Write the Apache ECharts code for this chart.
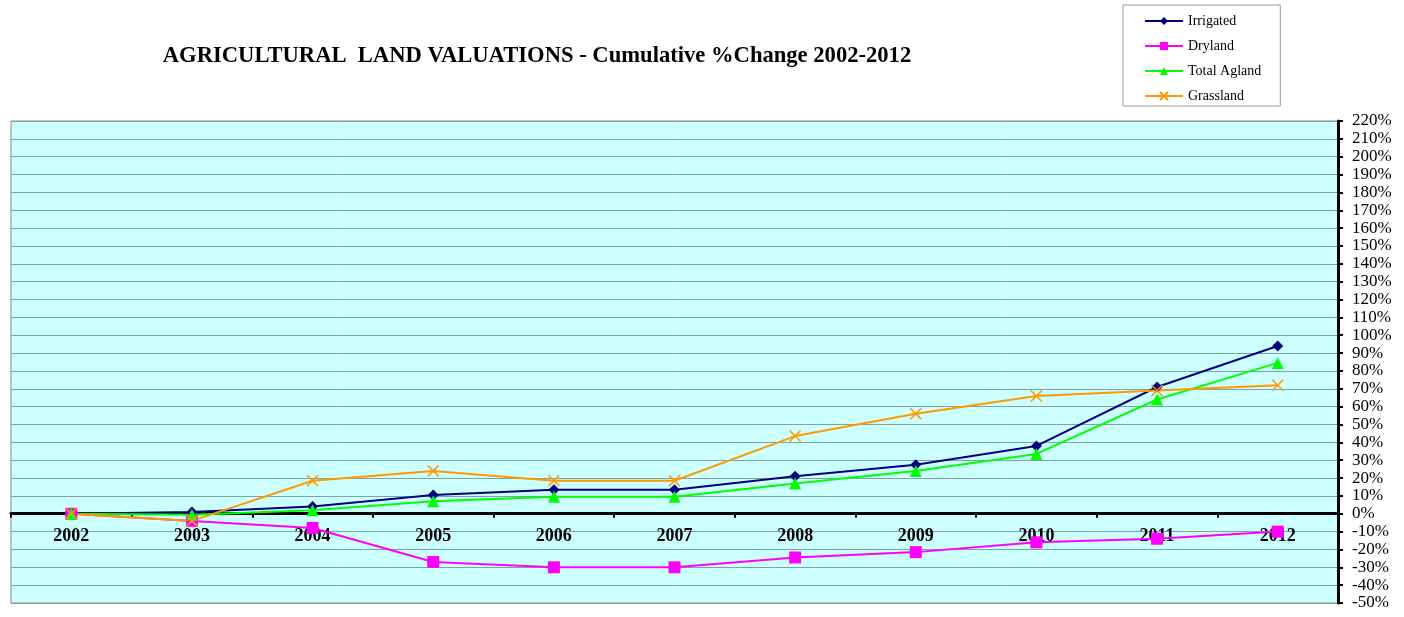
<!DOCTYPE html>
<html>
<head>
  <meta charset="utf-8">
  <title>Agricultural Land Valuations</title>
  <script src="https://cdn.jsdelivr.net/npm/echarts@6/dist/echarts.min.js"></script>
  <style>
    html, body { margin: 0; padding: 0; background: #fff; }
    #main { width: 1404px; height: 617px; }
  </style>
</head>
<body>
<div id="main"></div>
<script>
// data
var years = ['2002', '2003', '2004', '2005', '2006', '2007', '2008', '2009', '2010', '2011', '2012'];
var irrigated = [0, 1, 4, 10.5, 13.5, 13.5, 21, 27.5, 38, 71, 94];
var dryland = [0, -4, -8, -27, -30, -30, -24.5, -21.5, -16, -14, -10];
var totalAgland = [0, -0.5, 2, 7, 9.5, 9.5, 17, 24, 33.5, 64, 84.5];
var grassland = [0, -4, 18.5, 24, 18.5, 18.5, 43.5, 56, 66, 69, 72];

var serif = '"Liberation Serif", "DejaVu Serif", serif';
var crossPath = 'path://M0,0L10,10M10,0L0,10';

var myChart = echarts.init(document.getElementById('main'));

function makeSeries(name, data, color, symbol, size, extraItem) {
  return {
    name: name,
    type: 'line',
    data: data,
    symbol: symbol,
    symbolSize: size,
    lineStyle: { color: color, width: 2 },
    itemStyle: extraItem || { color: color },
    emphasis: { disabled: true },
    z: 3
  };
}

var option = {
  animation: false,
  backgroundColor: '#ffffff',
  title: {
    text: 'AGRICULTURAL  LAND VALUATIONS - Cumulative %Change 2002-2012',
    left: 532,
    textAlign: 'center',
    top: 40,
    textStyle: { fontFamily: serif, fontSize: 22.6, fontWeight: 'bold', color: '#000' }
  },
  legend: {
    orient: 'vertical',
    left: 1123,
    top: 5,
    padding: [9, 19, 3, 21],
    itemGap: 11,
    itemWidth: 38,
    itemHeight: 10,
    backgroundColor: '#ffffff',
    borderColor: '#999999',
    borderWidth: 1,
    textStyle: { fontFamily: serif, fontSize: 14, color: '#000' },
    data: ['Irrigated', 'Dryland', 'Total Agland', 'Grassland']
  },
  grid: {
    left: 11,
    right: 66,
    top: 121,
    bottom: 14,
    containLabel: false,
    outerBoundsMode: 'none',
    show: true,
    backgroundColor: '#ccffff',
    borderColor: '#8a8a8a',
    borderWidth: 1
  },
  xAxis: {
    type: 'category',
    data: years,
    boundaryGap: true,
    axisLine: { onZero: true, lineStyle: { color: '#000', width: 3 } },
    axisTick: { show: true, inside: false, length: 4, lineStyle: { color: '#000', width: 2 } },
    // labels sit just under the zero line, as in the original
    axisLabel: { fontFamily: serif, fontSize: 18, fontWeight: 'bold', color: '#000', margin: -76 },
    splitLine: { show: false }
  },
  yAxis: {
    type: 'value',
    position: 'right',
    min: -50,
    max: 220,
    interval: 10,
    axisLine: { show: true, lineStyle: { color: '#000', width: 3 } },
    axisTick: { show: true, inside: false, length: 5, lineStyle: { color: '#000', width: 2 } },
    axisLabel: {
      fontFamily: serif, fontSize: 17, color: '#000', margin: 14,
      formatter: function (v) { return v + '%'; }
    },
    splitLine: { show: true, lineStyle: { color: '#7fa3a5', width: 1 } }
  },
  series: [
    makeSeries('Irrigated', irrigated, '#000080', 'diamond', 11),
    makeSeries('Dryland', dryland, '#ff00ff', 'rect', 12),
    makeSeries('Total Agland', totalAgland, '#00ff00', 'triangle', 12),
    makeSeries('Grassland', grassland, '#ff9900', crossPath, 11,
      { color: 'rgba(0,0,0,0)', borderColor: '#ff9900', borderWidth: 1.5 })
  ]
};

myChart.setOption(option);
</script>
</body>
</html>
